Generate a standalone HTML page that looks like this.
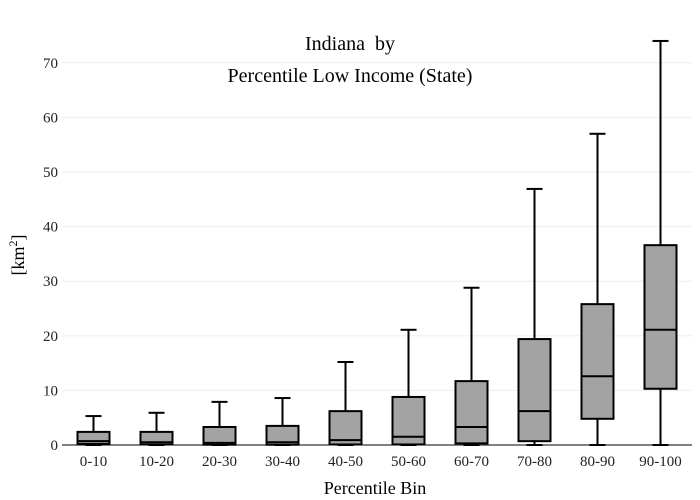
<!DOCTYPE html>
<html><head><meta charset="utf-8"><style>
body{margin:0;background:#fff}
svg{display:block;font-family:"Liberation Serif",serif}
</style></head><body>
<svg id="chart" width="700" height="500">
<text x="350" y="50" text-anchor="middle" font-size="20" style="white-space:pre">Indiana  by</text>
<text x="350" y="82" text-anchor="middle" font-size="20">Percentile Low Income (State)</text>
<text x="375" y="494" text-anchor="middle" font-size="18">Percentile Bin</text>
<text transform="translate(24,255) rotate(-90)" text-anchor="middle" font-size="18">[km<tspan dy="-7" font-size="12">2</tspan><tspan dy="7">]</tspan></text>
<g id="grid"></g><g id="boxes"></g><g id="axes"></g>
</svg>
<script>
const categories=["0-10","10-20","20-30","30-40","40-50","50-60","60-70","70-80","80-90","90-100"];
const minVals=[0,0,0,0,0,0,0,0,0,0];
const q1Vals=[0.2,0.1,0.05,0.05,0.1,0.1,0.3,0.7,4.8,10.3];
const medianVals=[0.7,0.5,0.4,0.5,0.9,1.5,3.3,6.2,12.6,21.1];
const q3Vals=[2.4,2.4,3.3,3.5,6.2,8.8,11.7,19.4,25.8,36.6];
const maxVals=[5.3,5.9,7.9,8.6,15.2,21.1,28.8,46.9,57,74];
const yTicks=[0,10,20,30,40,50,60,70];
const NS="http://www.w3.org/2000/svg";
const left=62,right=692,y0=445,pxPer=5.46;
const y=v=>y0-v*pxPer;
const band=(right-left)/categories.length;
const x=i=>left+band*(i+0.5);
function mk(tag,attrs,parent){const e=document.createElementNS(NS,tag);for(const k in attrs)e.setAttribute(k,attrs[k]);parent.appendChild(e);return e;}
const grid=document.getElementById('grid'),boxes=document.getElementById('boxes'),axes=document.getElementById('axes');
yTicks.forEach(t=>{
 if(t>0){const l=mk('line',{x1:left,x2:right,y1:y(t),y2:y(t),stroke:'#eeeeee','stroke-width':1},grid);
 
 }
 const tx=mk('text',{x:left-4,y:y(t)+5,'text-anchor':'end','font-size':15,fill:'#222'},axes);
 tx.textContent=t;
 
 
});
const ax=mk('line',{x1:left,x2:right,y1:y0,y2:y0,stroke:'#000','stroke-width':1},axes);


const bw=32,cw=16;
categories.forEach((c,i)=>{
 const cx=x(i);
 const g=mk('g',{},boxes);
 
 
 const s={stroke:'#000','stroke-width':2};
 mk('line',Object.assign({x1:cx,x2:cx,y1:y(maxVals[i]),y2:y(q3Vals[i])},s),g);
 mk('line',Object.assign({x1:cx,x2:cx,y1:y(q1Vals[i]),y2:y(minVals[i])},s),g);
 mk('line',Object.assign({x1:cx-cw/2,x2:cx+cw/2,y1:y(maxVals[i]),y2:y(maxVals[i])},s),g);
 mk('line',Object.assign({x1:cx-cw/2,x2:cx+cw/2,y1:y(minVals[i]),y2:y(minVals[i])},s),g);
 mk('rect',Object.assign({x:cx-bw/2,y:y(q3Vals[i]),width:bw,height:y(q1Vals[i])-y(q3Vals[i]),fill:'#a3a3a3'},s),g);
 mk('line',Object.assign({x1:cx-bw/2,x2:cx+bw/2,y1:y(medianVals[i]),y2:y(medianVals[i])},s),g);
 const tx=mk('text',{x:cx,y:y0+21,'text-anchor':'middle','font-size':15,fill:'#222'},axes);
 tx.textContent=c;
 
 
});
</script>
</body></html>
